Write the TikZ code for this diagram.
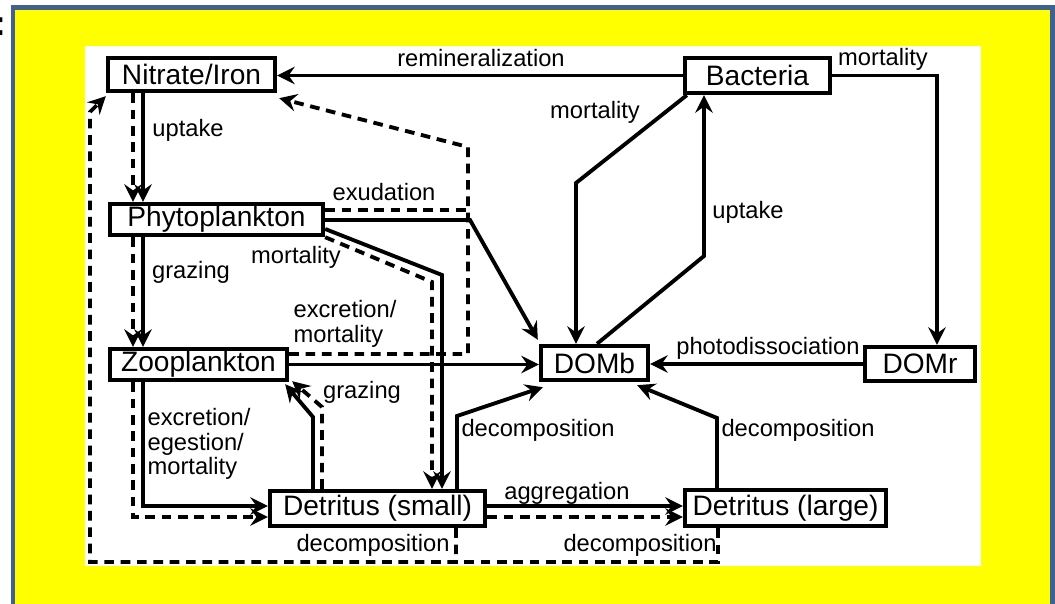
\documentclass[tikz,border=0pt]{standalone}
\usepackage{fontspec}
\setmainfont{Liberation Sans}
\usetikzlibrary{calc, arrows.meta}
\definecolor{frameBlue}{RGB}{63, 98, 145}
\definecolor{frameYellow}{RGB}{255, 255, 0}

\tikzset{
  pool/.style={draw, line width=2.5pt, fill=white, inner sep=0pt, font=\fontsize{16}{19}\selectfont},
  flux/.style={line width=2.2pt, -{Stealth[length=10pt, width=10pt, inset=3.5pt]}},
  fedash/.style={flux, dash pattern=on 5.5pt off 3.8pt},
  lbl/.style={inner sep=0pt, font=\fontsize{13.5}{14}\selectfont},
}

\begin{document}
\begin{tikzpicture}[x=0.02cm, y=-0.02cm]
  \useasboundingbox (0,0) rectangle (1055,604);
  % frame
  \fill[frameYellow] (13,7.5) rectangle (1060,620);
  \draw[frameBlue, line width=0.1cm] (13,7.5) rectangle (1052.5,620);
  \fill[white] (85,46) rectangle (981,566);
  \node[anchor=base east, inner sep=0pt, font=\bfseries\fontsize{20}{24}\selectfont] (colon) at (7,36) {:};

  \node[pool, minimum width=3.34cm, minimum height=0.66cm] (nitrate) at (191.5,74.5) {Nitrate/Iron};
  \node[pool, minimum width=2.90cm, minimum height=0.70cm] (bact) at (757.5,75.5) {Bacteria};
  \node[pool, minimum width=4.26cm, minimum height=0.62cm] (phyto) at (216.5,219.5) {Phytoplankton};
  \node[pool, minimum width=3.54cm, minimum height=0.62cm] (zoo) at (198.5,364.5) {Zooplankton};
  \node[pool, minimum width=2.14cm, minimum height=0.68cm] (domb) at (594.5,363) {DOMb};
  \node[pool, minimum width=2.20cm, minimum height=0.68cm] (domr) at (920,364) {DOMr};
  \node[pool, minimum width=4.30cm, minimum height=0.70cm] (dets) at (377.5,508.5) {Detritus (small)};
  \node[pool, minimum width=4.02cm, minimum height=0.72cm] (detl) at (785.5,508) {Detritus (large)};

  % nutrient uptake and grazing
  \draw[flux] (143,0 |- nitrate.south) -- (143,0 |- phyto.north);
  \draw[fedash] (133,0 |- nitrate.south) -- (133,0 |- phyto.north);
  \node[lbl] (l-upt) at (188,130) {uptake};
  \draw[flux] (143,0 |- phyto.south) -- (143,0 |- zoo.north);
  \draw[fedash] (133,0 |- phyto.south) -- (133,0 |- zoo.north);
  \node[lbl] (l-graz) at (191,272) {grazing};
  \draw[flux] (143,0 |- zoo.south) |- (dets.west |- 0,506);
  \draw[fedash] (133,0 |- zoo.south) |- (dets.west |- 0,517);
  \node[lbl, align=left] (l-egest) at (199,444) {excretion/\\egestion/\\mortality};

  \draw[flux] (313,0 |- dets.north) -- (313,417) -- ($(zoo.south east)+(-4,2)$);
  \draw[fedash] (322,0 |- dets.north) -- (322,407) -- ($(zoo.south east)+(3,-1)$);
  \node[lbl] (l-graz2) at (362,392) {grazing};

  \draw[flux] (phyto.east |- 0,229) -- (442,275) -- (442,0 |- dets.north);
  \draw[fedash] (phyto.south east) -- (432,282) -- (432,0 |- dets.north);
  \node[lbl] (l-mort1) at (296,257) {mortality};

  % exudation and excretion back to nitrate
  \draw[fedash] (zoo.east |- 0,354) -- (468,354) -- (468,147) -- ($(nitrate.south east)+(2,5)$);
  \draw[fedash, -] (phyto.east |- 0,210) -- (468,210);
  \node[lbl] (l-exud) at (384,192) {exudation};
  \node[lbl, align=left] (l-excr) at (345,324) {excretion/\\mortality};

  \draw[flux] (phyto.east |- 0,220) -- (470,220) -- ($(domb.north west)+(-1,-4)$);
  \draw[flux] (zoo.east) -- (zoo.east -| domb.west);

  % bacteria
  \draw[flux] (bact.west) -- (bact.west -| nitrate.east);
  \node[lbl] (l-remin) at (481,58) {remineralization};
  \draw[flux] ($(bact.south west)+(4,0)$) -- (576,183) -- (576,0 |- domb.north);
  \node[lbl] (l-mort2) at (595,112) {mortality};
  \draw[flux] (597,0 |- domb.north) -- (704,256) -- (704,0 |- bact.south);
  \node[lbl] (l-upt2) at (748,212) {uptake};
  \draw[flux] (bact.east) -| (937,0 |- domr.north);
  \node[lbl] (l-mort3) at (883,59) {mortality};
  \draw[flux] (domr.west) -- (domr.west -| domb.east);
  \node[lbl] (l-photo) at (768,348) {photodissociation};

  % decomposition
  \draw[flux] (457,0 |- dets.north) -- (457,416) -- ($(domb.south west)+(4,5)$);
  \draw[flux] (717,0 |- detl.north) -- (717,418) -- ($(domb.south east)+(-13,3)$);
  \node[lbl] (l-dec1) at (538,430) {decomposition};
  \node[lbl] (l-dec2) at (798,430) {decomposition};

  \draw[flux] (dets.east |- 0,506) -- (detl.west |- 0,506);
  \draw[fedash] (dets.east |- 0,517) -- (detl.west |- 0,517);
  \node[lbl] (l-aggr) at (567,493) {aggregation};

  \draw[fedash] (456,0 |- dets.south) -- (456,562) -- (90,562) -- (90,112) -- ($(nitrate.south west)+(0,3)$);
  \draw[fedash, -] (718,0 |- detl.south) -- (718,562) -- (456,562);
  \node[lbl] (l-dec3) at (373,545) {decomposition};
  \node[lbl] (l-dec4) at (640,545) {decomposition};
\end{tikzpicture}
\end{document}
